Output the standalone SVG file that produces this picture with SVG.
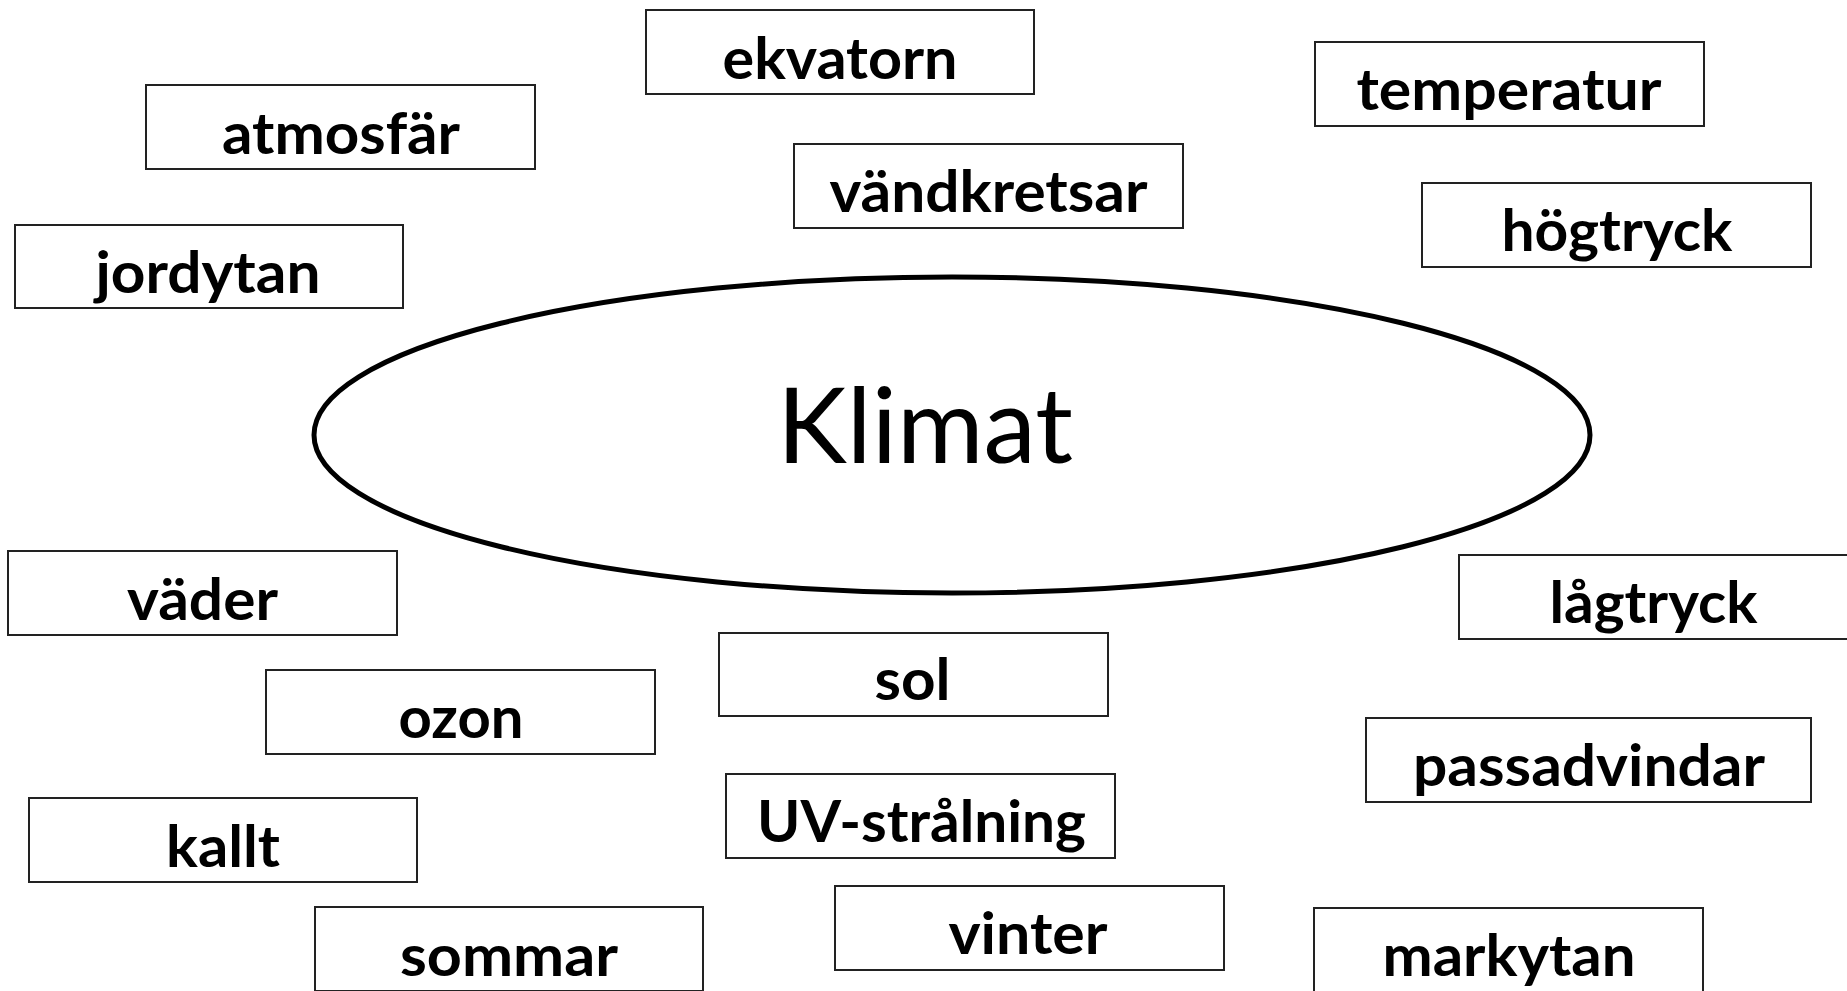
<svg xmlns="http://www.w3.org/2000/svg" width="1847" height="991" viewBox="0 0 1847 991">
<style>
  .box rect { fill: #ffffff; stroke: #222222; stroke-width: 2; }
  .box text { font-family: "Lato", "Open Sans", sans-serif; font-weight: 700; font-size: 58px; fill: #000000; text-anchor: middle; }
  .center ellipse { fill: #ffffff; stroke: #000000; stroke-width: 5; }
  .center text { font-family: "Lato", "Open Sans", sans-serif; font-weight: 400; font-size: 105px; fill: #000000; text-anchor: middle; }
</style>
<rect x="0" y="0" width="1847" height="991" fill="#ffffff"/>
<g id="connectors"></g>
<g id="klimat" class="center">
  <ellipse cx="952" cy="435" rx="638" ry="158"/>
  <text x="925" y="463" textLength="296" lengthAdjust="spacingAndGlyphs">Klimat</text>
</g>
<g id="ekvatorn" class="box">
  <rect x="646" y="10" width="388" height="84"/>
  <text x="840" y="79" textLength="235" lengthAdjust="spacingAndGlyphs">ekvatorn</text>
</g>
<g id="atmosfar" class="box">
  <rect x="146" y="85" width="389" height="84"/>
  <text x="341" y="154" textLength="238" lengthAdjust="spacingAndGlyphs">atmosfär</text>
</g>
<g id="temperatur" class="box">
  <rect x="1315" y="42" width="389" height="84"/>
  <text x="1509" y="110" textLength="305" lengthAdjust="spacingAndGlyphs">temperatur</text>
</g>
<g id="vandkretsar" class="box">
  <rect x="794" y="144" width="389" height="84"/>
  <text x="988.5" y="212" textLength="318" lengthAdjust="spacingAndGlyphs">vändkretsar</text>
</g>
<g id="hogtryck" class="box">
  <rect x="1422" y="183" width="389" height="84"/>
  <text x="1617" y="251" textLength="231" lengthAdjust="spacingAndGlyphs">högtryck</text>
</g>
<g id="jordytan" class="box">
  <rect x="15" y="225" width="388" height="83"/>
  <text x="208" y="293" textLength="225" lengthAdjust="spacingAndGlyphs">jordytan</text>
</g>
<g id="vader" class="box">
  <rect x="8" y="551" width="389" height="84"/>
  <text x="202.5" y="620" textLength="151" lengthAdjust="spacingAndGlyphs">väder</text>
</g>
<g id="lagtryck" class="box">
  <rect x="1459" y="555" width="389" height="84"/>
  <text x="1653.5" y="623" textLength="208" lengthAdjust="spacingAndGlyphs">lågtryck</text>
</g>
<g id="sol" class="box">
  <rect x="719" y="633" width="389" height="83"/>
  <text x="912.5" y="700" textLength="76" lengthAdjust="spacingAndGlyphs">sol</text>
</g>
<g id="ozon" class="box">
  <rect x="266" y="670" width="389" height="84"/>
  <text x="461" y="738" textLength="125" lengthAdjust="spacingAndGlyphs">ozon</text>
</g>
<g id="passadvindar" class="box">
  <rect x="1366" y="718" width="445" height="84"/>
  <text x="1589" y="786" textLength="352" lengthAdjust="spacingAndGlyphs">passadvindar</text>
</g>
<g id="uv-stralning" class="box">
  <rect x="726" y="774" width="389" height="84"/>
  <text x="921.5" y="842" textLength="329" lengthAdjust="spacingAndGlyphs">UV-strålning</text>
</g>
<g id="kallt" class="box">
  <rect x="29" y="798" width="388" height="84"/>
  <text x="223" y="867" textLength="114" lengthAdjust="spacingAndGlyphs">kallt</text>
</g>
<g id="vinter" class="box">
  <rect x="835" y="886" width="389" height="84"/>
  <text x="1028" y="954" textLength="159" lengthAdjust="spacingAndGlyphs">vinter</text>
</g>
<g id="sommar" class="box">
  <rect x="315" y="907" width="388" height="84"/>
  <text x="509" y="976" textLength="218" lengthAdjust="spacingAndGlyphs">sommar</text>
</g>
<g id="markytan" class="box">
  <rect x="1314" y="908" width="389" height="84"/>
  <text x="1509" y="976" textLength="253" lengthAdjust="spacingAndGlyphs">markytan</text>
</g>
</svg>
